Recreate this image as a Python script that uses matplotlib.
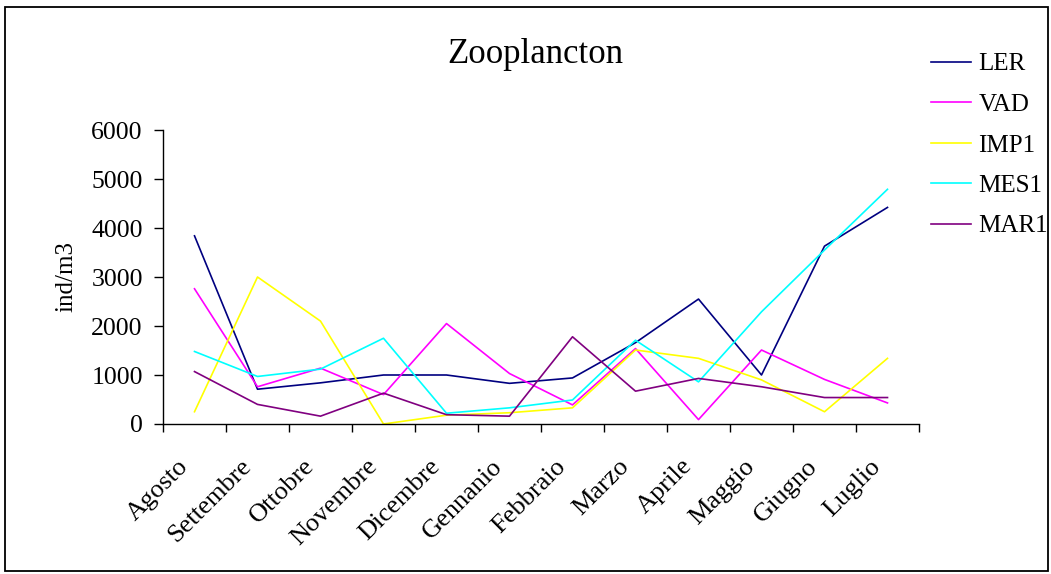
"""
Zooplancton density per station across the sampling year (ind/m3).
"""

import matplotlib
matplotlib.use('Agg')
import matplotlib.pyplot as plt
from matplotlib.transforms import ScaledTranslation
from matplotlib.patches import Rectangle

matplotlib.rcParams['font.family'] = ['Liberation Serif', 'DejaVu Serif']

MONTHS = ['Agosto', 'Settembre', 'Ottobre', 'Novembre', 'Dicembre', 'Gennanio',
          'Febbraio', 'Marzo', 'Aprile', 'Maggio', 'Giugno', 'Luglio']

LER  = [3840,  710,  840, 1000, 1000,  830,  940, 1660, 2550, 1000, 3630, 4420]
VAD  = [2760,  760, 1140,  600, 2050, 1030,  390, 1540,   90, 1510,  910,  430]
IMP1 = [ 250, 3000, 2100,    0,  180,  230,  330, 1510, 1340,  900,  250, 1340]
MES1 = [1480,  970, 1120, 1750,  220,  330,  490, 1710,  860, 2290, 3550, 4790]
MAR1 = [1070,  400,  160,  630,  190,  160, 1780,  670,  930,  760,  540,  540]

SERIES = [('LER', LER, '#000080'),
          ('VAD', VAD, '#FF00FF'),
          ('IMP1', IMP1, '#FFFF00'),
          ('MES1', MES1, '#00FFFF'),
          ('MAR1', MAR1, '#800080')]

W, H, DPI = 1051, 574, 100

fig = plt.figure(figsize=(W / DPI, H / DPI), dpi=DPI)
fig.patch.set_facecolor('white')

# plot area in pixels: x 163..919, y 130..424
ax = fig.add_axes([163 / W, 1 - 424 / H, 756 / W, 294 / H])

x = list(range(len(MONTHS)))
for name, vals, col in SERIES:
    ax.plot(x, vals, color=col, lw=1.2, label=name)

ax.set_xlim(-0.5, len(MONTHS) - 0.5)
ax.set_ylim(0, 6000)
ax.set_yticks(range(0, 6001, 1000))

# category boundaries carry the tick marks, centres carry the labels
ax.set_xticks([i - 0.5 for i in range(len(MONTHS) + 1)])
ax.set_xticklabels([])
ax.set_xticks(x, minor=True)
ax.set_xticklabels(MONTHS, minor=True, rotation=45, ha='right', va='center',
                   rotation_mode='anchor', fontsize=19)
ax.tick_params(axis='x', which='major', direction='out', length=6, width=1)
ax.tick_params(axis='x', which='minor', length=0, pad=28)
ax.tick_params(axis='y', direction='out', length=6.5, width=1, pad=8, labelsize=18.5)

shift = ScaledTranslation(-10 / DPI, 0, fig.dpi_scale_trans)
for lbl in ax.get_xticklabels(minor=True):
    lbl.set_transform(lbl.get_transform() + shift)

for side in ['top', 'right']:
    ax.spines[side].set_visible(False)
for side in ['left', 'bottom']:
    ax.spines[side].set_linewidth(1)
    ax.spines[side].set_color('black')

ax.set_ylabel('ind/m3', fontsize=18, labelpad=10)

# title
fig.text(535 / W, 1 - 63 / H, 'Zooplancton', ha='center', va='baseline', fontsize=25)

# legend to the right of the plot
ax.legend(loc='upper left', bbox_to_anchor=(931 / W, 1 - 53 / H),
          bbox_transform=fig.transFigure, frameon=False, fontsize=18,
          handlelength=1.6, handletextpad=0.3, labelspacing=0.72,
          borderpad=0, borderaxespad=0)

# outer frame
fig.add_artist(Rectangle((5 / W, 3 / H), 1043 / W, 564 / H,
                         transform=fig.transFigure, fill=False,
                         edgecolor='black', lw=1.3))

fig.savefig('out.png', dpi=DPI, facecolor='white')
